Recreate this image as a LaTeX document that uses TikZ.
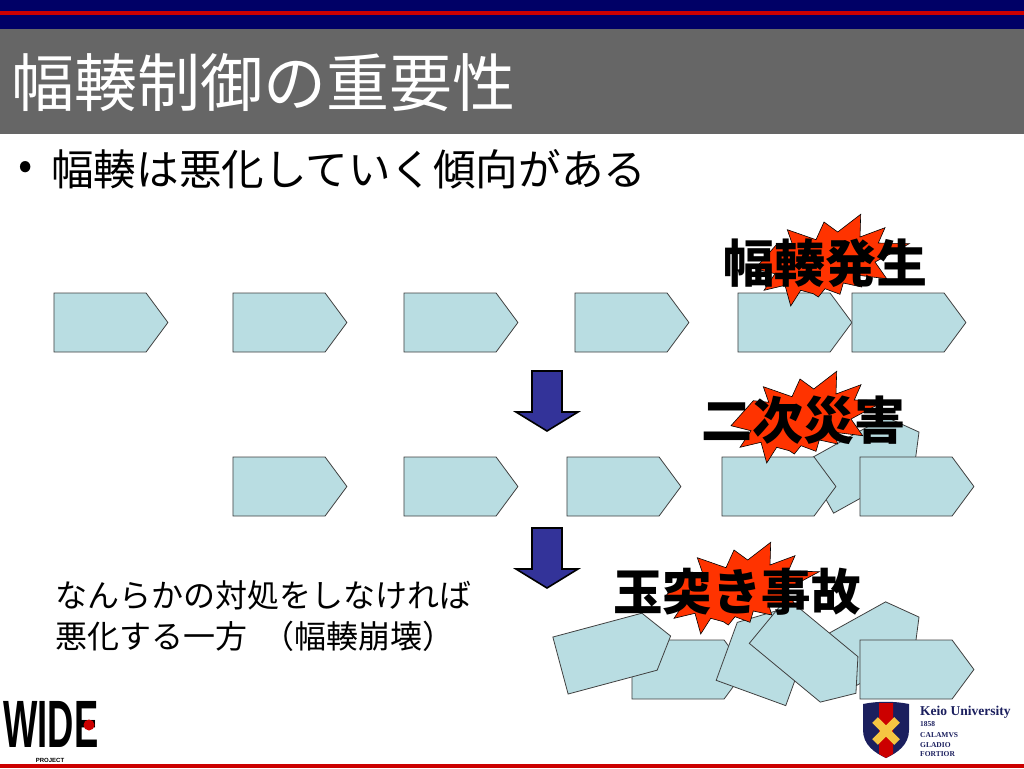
\documentclass[tikz,border=0pt]{standalone}
\usepackage{fontspec}
\usepackage{graphicx}
\usetikzlibrary{shapes.symbols, positioning}
\setmainfont{Noto Sans CJK JP}
\newfontfamily\logofont{Liberation Sans}
\newfontfamily\keiofont{Liberation Serif}
\definecolor{wideNavy}{HTML}{000066}
\definecolor{wideRed}{HTML}{CC0000}
\definecolor{titleGrey}{HTML}{666666}
\definecolor{plateBlue}{HTML}{B9DDE2}
\definecolor{burstRed}{HTML}{FF3300}
\definecolor{arrowBlue}{HTML}{333399}
\definecolor{keioNavy}{HTML}{1B1F5E}
\definecolor{keioGold}{HTML}{F5C542}

\begin{document}
\begin{tikzpicture}[
  x=1pt, y=-1pt,
  plate/.style={signal, signal to=east, signal pointer angle=107, draw=black!75, fill=plateBlue, line width=0.8pt, minimum width=114pt, minimum height=59pt, inner sep=0pt, outer sep=0pt},
  label/.style={font=\bfseries\fontsize{51}{51}\selectfont, inner sep=0pt, text=black},
  motto/.style={anchor=west, inner sep=0pt, text=keioNavy, font=\keiofont\bfseries\fontsize{7.5}{7.5}\selectfont},
  burst/.pic={
    \draw[fill=burstRed, draw=black, line width=0.6pt] (110.7,7.3) -- (87.7,25) -- (74,15) -- (66,32.7) -- (37.3,22.7) -- (42.7,38.3) -- (27.3,36.7) -- (5,61.7) -- (25,66.7) -- (14,83.3) -- (35,78.3) -- (40.7,99) -- (50.7,83.3) -- (63.3,86.7) -- (68.3,90) -- (75,81.7) -- (90,87.3) -- (93.3,76) -- (111.7,80) -- (108.3,68.3) -- (136.7,71.7) -- (125,55) -- (159.3,36.7) -- (128.3,36) -- (135,20.7) -- (110,30) -- cycle;
  },
  downarrow/.pic={
    \draw[fill=arrowBlue, draw=black, line width=1.6pt, line join=miter] (-15,0) -- (15,0) -- (15,41) -- (31,41) -- (0,60) -- (-31,41) -- (-15,41) -- cycle;
  },
]
\useasboundingbox (0,0) rectangle (1024,768);

% Header and footer
\fill[wideNavy] (0,0) rectangle (1024,29);
\fill[wideRed] (0,11) rectangle (1024,15);
\fill[titleGrey] (0,29) rectangle (1024,134);
\fill[wideRed] (0,764) rectangle (1024,768);

% Titles
\node[anchor=west, inner sep=0pt, text=white, font=\fontsize{63}{63}\selectfont] (title) at (11,83) {幅輳制御の重要性};
\node[anchor=west, inner sep=0pt, font=\fontsize{42}{42}\selectfont] (bullet) at (18,170) {•};
\node[anchor=west, inner sep=0pt, font=\fontsize{42.6}{42.6}\selectfont] (lead) at (51,169) {幅輳は悪化していく傾向がある};

% Row 1
\node[plate] (a1) at (100,322.5) {};
\node[plate, right=65pt of a1] (a2) {};
\node[plate, right=57pt of a2] (a3) {};
\node[plate, right=57pt of a3] (a4) {};
\node[plate, right=49pt of a4] (a5) {};
\node[plate, right=0pt of a5] (a6) {};
\pic at (750,207) {burst};
\node[label] (l1) at (825,263) {幅輳発生};

\pic at (547,371) {downarrow};

% Row 2
\node[plate] (b1) at (279,486.5) {};
\node[plate, right=57pt of b1] (b2) {};
\node[plate, right=49pt of b2] (b3) {};
\node[plate, rotate=29] (b4) at (859.6,465) {};
\node[plate] (b5) at (768,486.5) {};
\node[plate] (b6) at (906,486.5) {};
\pic at (726,364) {burst};
\node[label] (l2) at (803,420) {二次災害};

\pic at (547,528) {downarrow};

% Row 3
\node[plate, rotate=29] (c1) at (859.6,650) {};
\node[plate] (c2) at (678,669.5) {};
\node[plate, rotate=15] (c3) at (605,653.6) {};
\node[plate, rotate=70, minimum width=89pt, minimum height=74pt] (c4) at (761.5,664) {};
\node[plate, rotate=-39.6] (c5) at (803.6,650) {};
\node[plate] (c6) at (906,669.5) {};
\pic at (660,535) {burst};
\node[label, font=\bfseries\fontsize{49.5}{49.5}\selectfont] (l3) at (737,592) {玉突き事故};

% Note
\node[anchor=west, inner sep=0pt, align=left, font=\fontsize{32}{41}\selectfont] (note) at (55,616) {なんらかの対処をしなければ\\悪化する一方\hspace{15pt}（幅輳崩壊）};

% WIDE logo
\node[inner sep=0pt, font=\logofont\bfseries\fontsize{34}{34}\selectfont] (wide) at (51,724) {\scalebox{1.07}[1.97]{WIDE}};
\node[circle, fill=wideRed, minimum size=11pt, inner sep=0pt] (widedot) at (89,725) {};
\node[inner sep=0pt, font=\logofont\bfseries\fontsize{6}{6}\selectfont] (project) at (50,760) {PROJECT};

% Keio logo
\fill[keioNavy] (863,704) .. controls (878,701) and (894,701) .. (909,704) -- (909,730) .. controls (909,745) and (897,753) .. (886,758) .. controls (875,753) and (863,745) .. (863,730) -- cycle;
\fill[wideRed] (879,703) -- (893,703) -- (893,754) -- (886,758) -- (879,754) -- cycle;
\draw[keioGold, line width=8pt] (875,720) -- (897,742);
\draw[keioGold, line width=8pt] (897,720) -- (875,742);
\node[anchor=west, inner sep=0pt, text=keioNavy, font=\keiofont\bfseries\fontsize{13.5}{13.5}\selectfont] (keio) at (920,712) {Keio University};
\node[motto] (year) at (920,724) {1858};
\node[motto] (motto1) at (920,735) {CALAMVS};
\node[motto] (motto2) at (920,745) {GLADIO};
\node[motto] (motto3) at (920,754) {FORTIOR};

\end{tikzpicture}
\end{document}
